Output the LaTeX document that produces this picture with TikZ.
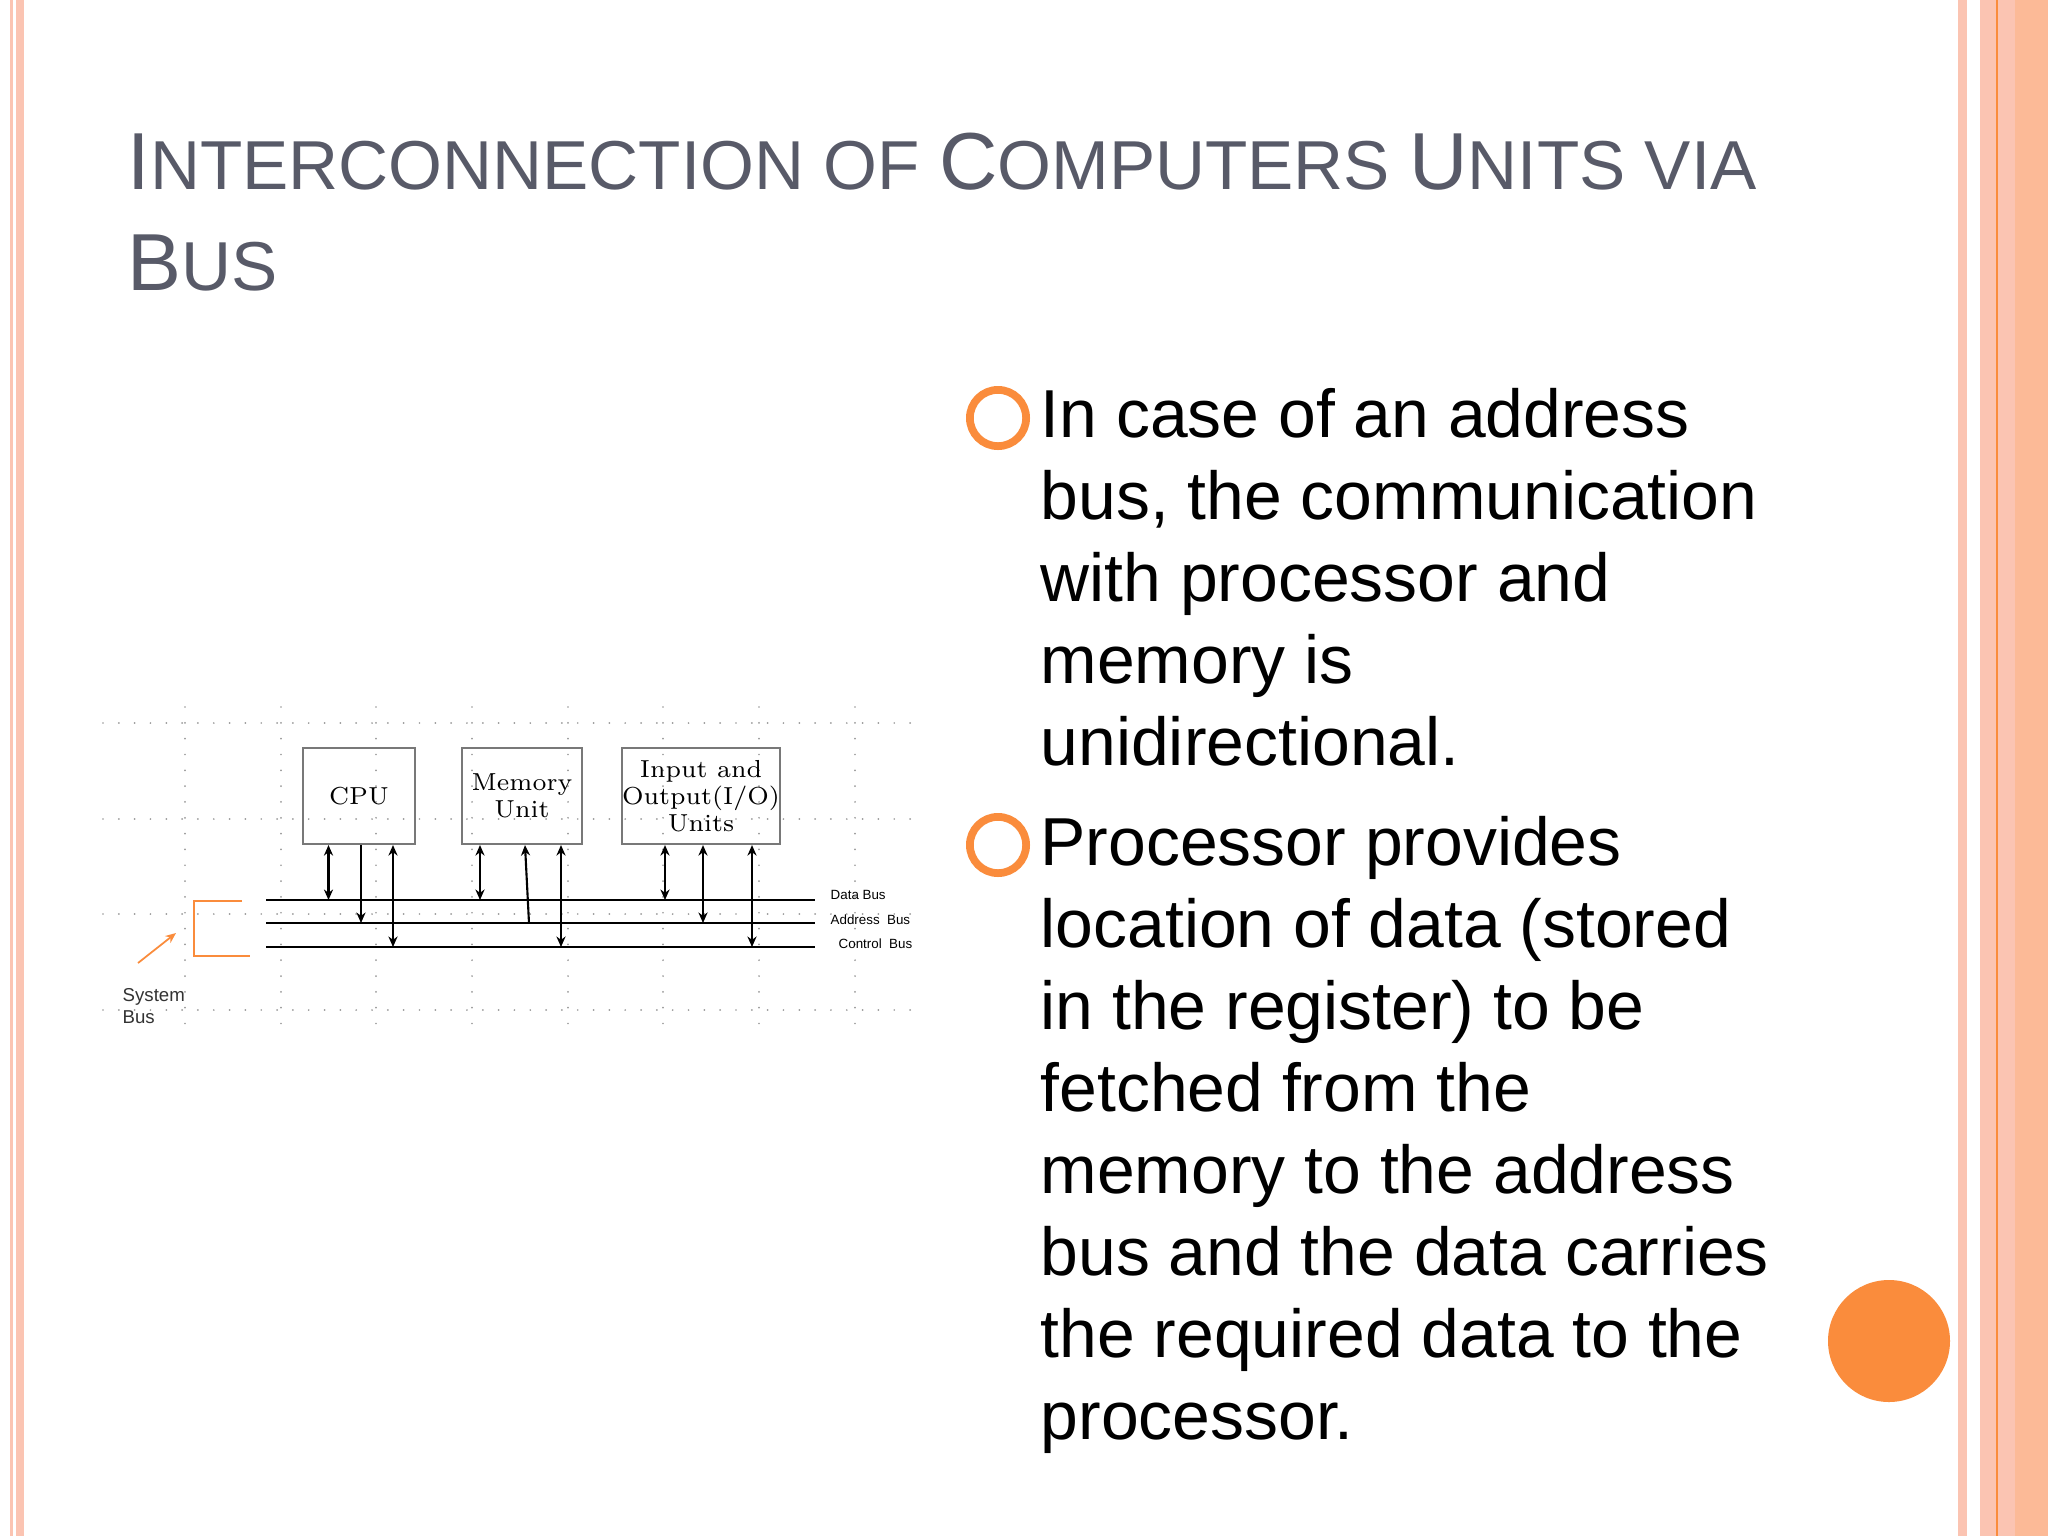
\documentclass[tikz,border=0pt]{standalone}
\usepackage{fontspec}
\setmainfont{Liberation Sans}
\newfontfamily\lmserif{Latin Modern Roman}
\usetikzlibrary{arrows.meta,calc}
\definecolor{pinkA}{RGB}{251,196,178}
\definecolor{orangeA}{RGB}{250,140,60}
\definecolor{titlec}{RGB}{88,90,104}
\definecolor{boxc}{RGB}{120,120,120}
\tikzset{
 box/.style={draw=boxc,line width=0.6pt,minimum width=#1,minimum height=27.3pt,inner sep=0pt,align=center,font=\lmserif\fontsize{7}{7.6}\selectfont},
 bus/.style={line width=0.8pt,black},
 conn/.style={line width=0.6pt,-{Stealth[length=3pt,width=2.6pt]}},
 bconn/.style={line width=0.6pt,{Stealth[length=3pt,width=2.6pt]}-{Stealth[length=3pt,width=2.6pt]}},
 buslab/.style={anchor=west,font=\fontsize{3.8}{4}\selectfont,inner sep=0pt},
 dotg/.style={gray!80,line width=0.55pt,line cap=round},
 bul/.style={circle,draw=orangeA,line width=2.2pt,minimum size=16pt,inner sep=0pt},
 para/.style={anchor=base west,align=left,inner sep=0pt,font=\fontsize{19.3}{23.3}\selectfont}
}
\begin{document}
\begin{tikzpicture}[x=0.01cm,y=-0.01cm]
\useasboundingbox (0,0) rectangle (2048,1536);
\fill[white] (0,0) rectangle (2048,1536);
% side stripes
\fill[pinkA] (10,0) rectangle (13,1536);
\fill[pinkA] (16,0) rectangle (24,1536);
\fill[pinkA] (1958,0) rectangle (1967,1536);
\fill[pinkA] (1980,0) rectangle (2048,1536);
\fill[pinkA!85!orange] (2015,0) rectangle (2048,1536);
\draw[orangeA,line width=0.6pt] (1997,0) -- (1997,1536);
% title
\node[anchor=base west,inner sep=0pt,text=titlec,align=left] (title) at (127,189)
 {\fontsize{23}{28}\selectfont I\fontsize{19.7}{28}\selectfont NTERCONNECTION OF \fontsize{23}{28}\selectfont C\fontsize{19.7}{28}\selectfont OMPUTERS \fontsize{23}{28}\selectfont U\fontsize{19.7}{28}\selectfont NITS VIA};
\node[anchor=base west,inner sep=0pt,text=titlec] (title2) at (127,290)
 {\fontsize{23}{28}\selectfont B\fontsize{19.7}{28}\selectfont US};
% grid dots
\foreach \y in {723,819,914,1010} {\draw[dotg,dash pattern=on 0pt off 4.5pt] (103,\y) -- (919,\y);}
\foreach \x in {185,281,376,472,568,663,759,855} {\draw[dotg,dash pattern=on 0pt off 4.5pt] (\x,707) -- (\x,1025);}
% boxes
\node[box=32pt] (cpu) at (359,796) {CPU};
\node[box=34pt] (mem) at (522,796) {Memory\\Unit};
\node[box=45pt] (io) at (701,796) {Input and\\Output(I/O)\\Units};
% buses
\coordinate (dbL) at (266,900); \coordinate (dbR) at (815,900);
\coordinate (abL) at (266,923); \coordinate (abR) at (815,923);
\coordinate (cbL) at (266,947); \coordinate (cbR) at (815,947);
\draw[bus] (dbL) -- (dbR);
\draw[bus] (abL) -- (abR);
\draw[bus] (cbL) -- (cbR);
\node[buslab] (dl) at (830,895) {Data Bus};
\node[buslab] (al) at (830,920) {Address\ \ Bus};
\node[buslab] (cl) at (838,944) {Control\ \ Bus};
% connectors
\coordinate (c1) at (328.5,900); \coordinate (c2) at (361,923); \coordinate (c3) at (393,947);
\draw[bconn] (cpu.south -| c1) -- (c1);
\draw[conn] (cpu.south -| c2) -- (c2);
\draw[bconn] (cpu.south -| c3) -- (c3);
\coordinate (m1) at (480,900); \coordinate (m2) at (529,923); \coordinate (m3) at (561,947);
\draw[bconn] (mem.south -| m1) -- (m1);
\draw[conn] (m2) -- ($(mem.south)+(3,0)$);
\draw[bconn] (mem.south -| m3) -- (m3);
\coordinate (i1) at (665,900); \coordinate (i2) at (703,923); \coordinate (i3) at (752,947);
\draw[bconn] (io.south -| i1) -- (i1);
\draw[bconn] (io.south -| i2) -- (i2);
\draw[bconn] (io.south -| i3) -- (i3);
% system bus bracket
\draw[orangeA,line width=0.5pt] (242,901) -- (194,901) -- (194,956) -- (250,956);
\coordinate (sa) at (138,963); \coordinate (sb) at (176,933);
\draw[orangeA,line width=0.5pt,-{Stealth[length=3pt,width=2.5pt]}] (sa) -- (sb);
\node[anchor=west,align=left,inner sep=0pt,font=\fontsize{5.3}{6.2}\selectfont,text=black!80] (sys) at (122,1006) {System\\Bus};
% bullets
\node[bul] (b1) at (998,418) {};
\node[bul] (b2) at (998,845) {};
\node[para] (p1) at (1040,765) {In case of an address\\bus, the communication\\with processor and\\memory is\\unidirectional.};
\node[para] (p2) at (1040,1439) {Processor provides\\location of data (stored\\in the register) to be\\fetched from the\\memory to the address\\bus and the data carries\\the required data to the\\processor.};
% orange circle
\fill[orangeA] (1889,1341) circle (61);
\end{tikzpicture}
\end{document}
